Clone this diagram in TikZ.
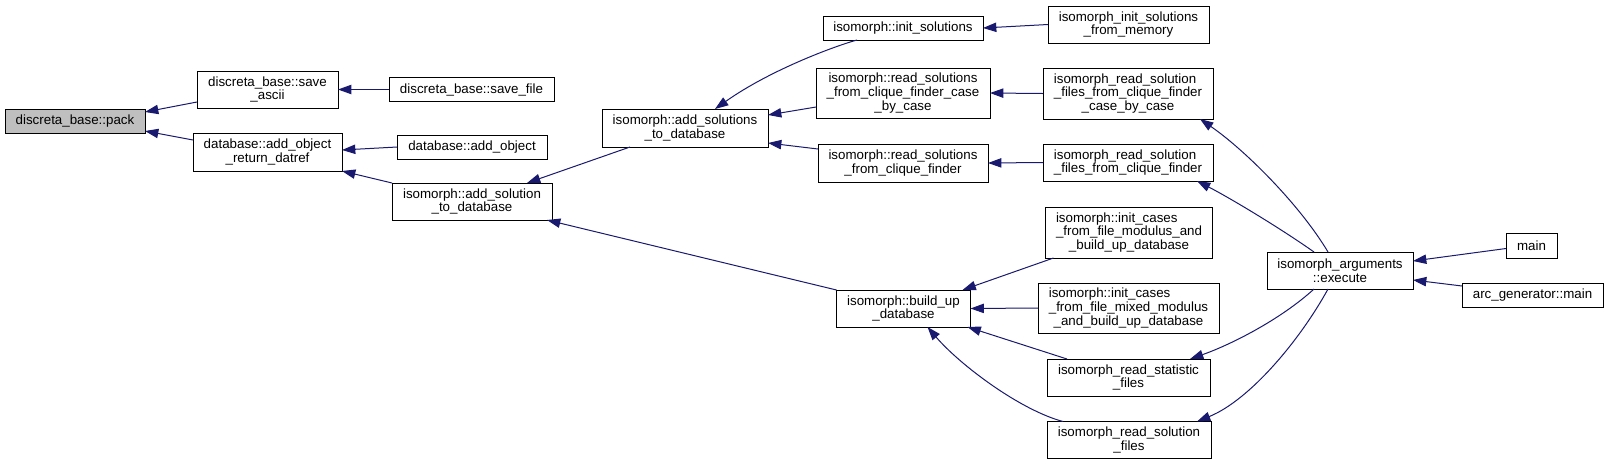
\documentclass[tikz,border=0pt]{standalone}
\usepackage{fontspec}
\setmainfont{Liberation Sans}
\usetikzlibrary{arrows.meta,calc}
\definecolor{edgeblue}{HTML}{191970}
\definecolor{packgray}{HTML}{BFBFBF}
\newlength\firstlen
\newcommand{\firstline}[2]{\settowidth{\firstlen}{#2}\makebox[\firstlen][l]{#1}}
\begin{document}
\begin{tikzpicture}[x=0.75pt,y=-0.75pt,
  nd/.style={draw=black,line width=0.75pt,fill=white,inner sep=0pt,outer sep=0pt,
    align=center,font=\fontsize{10}{10.4}\selectfont},
  call/.style={draw=edgeblue,line width=0.75pt,-{Triangle[length=10pt,width=7pt]},fill=none}]
\useasboundingbox (0,0) rectangle (1608,465);
\fill[white] (0,0) rectangle (1608,465);

% nodes
\node[nd,fill=packgray,minimum width=105pt,minimum height=18pt] (pack) at (75,121) {discreta\_base::pack};
\node[nd,minimum width=105.75pt,minimum height=27.75pt] (saveascii) at (267.5,89.5) {discreta\_base::save\\\_ascii};
\node[nd,minimum width=123.75pt,minimum height=18pt] (savefile) at (471.5,89.5) {discreta\_base::save\_file};
\node[nd,minimum width=111.75pt,minimum height=28.5pt] (datref) at (267.5,152) {database::add\_object\\\_return\_datref};
\node[nd,minimum width=112.5pt,minimum height=18pt] (addobject) at (472,147) {database::add\_object};
\node[nd,minimum width=120pt,minimum height=27.75pt] (addsolution) at (472,201.5) {isomorph::add\_solution\\\_to\_database};
\node[nd,minimum width=124.5pt,minimum height=28.5pt] (addsolutions) at (685,128) {isomorph::add\_solutions\\\_to\_database};
\node[nd,minimum width=120pt,minimum height=18pt] (initsolutions) at (903,28) {isomorph::init\_solutions};
\node[nd,minimum width=130.5pt,minimum height=37.5pt] (rscbc) at (903,93) {isomorph::read\_solutions\\\_from\_clique\_finder\_case\\\_by\_case};
\node[nd,minimum width=127.5pt,minimum height=28.5pt] (rscf) at (903,163) {isomorph::read\_solutions\\\_from\_clique\_finder};
\node[nd,minimum width=120.75pt,minimum height=27.75pt] (initmem) at (1128.5,24.5) {isomorph\_init\_solutions\\\_from\_memory};
\node[nd,minimum width=127.5pt,minimum height=38.25pt] (rsfcbc) at (1128,93.5) {\firstline{isomorph\_read\_solution}{\_files\_from\_clique\_finder}\\\_files\_from\_clique\_finder\\\_case\_by\_case};
\node[nd,minimum width=127.5pt,minimum height=27.75pt] (rsfcf) at (1128,162.5) {\firstline{isomorph\_read\_solution}{\_files\_from\_clique\_finder}\\\_files\_from\_clique\_finder};
\node[nd,minimum width=100.5pt,minimum height=27.75pt] (buildup) at (903.5,308.5) {isomorph::build\_up\\\_database};
\node[nd,minimum width=125.25pt,minimum height=38.25pt] (icmod) at (1129,232.5) {\firstline{isomorph::init\_cases}{\_from\_file\_modulus\_and}\\\_from\_file\_modulus\_and\\\_build\_up\_database};
\node[nd,minimum width=135.75pt,minimum height=37.5pt] (icmixed) at (1128.5,308) {\firstline{isomorph::init\_cases}{\_from\_file\_mixed\_modulus}\\\_from\_file\_mixed\_modulus\\\_and\_build\_up\_database};
\node[nd,minimum width=122.25pt,minimum height=27.75pt] (stat) at (1128.5,377.5) {isomorph\_read\_statistic\\\_files};
\node[nd,minimum width=123pt,minimum height=27.75pt] (solfiles) at (1129,440) {isomorph\_read\_solution\\\_files};
\node[nd,minimum width=109.5pt,minimum height=27.75pt] (execute) at (1340,270.5) {isomorph\_arguments\\::execute};
\node[nd,minimum width=38.25pt,minimum height=18.75pt] (main) at (1531.5,245.5) {main};
\node[nd,minimum width=105.75pt,minimum height=18pt] (arcmain) at (1532.5,295) {arc\_generator::main};

% edges (caller -> callee)
\draw[call] ($(saveascii.south west)+(0,-6)$) -- ($(pack.north east)+(0,3)$);
\draw[call] ($(datref.north west)+(0,7)$) -- ($(pack.south east)+(0,-2)$);
\draw[call] (savefile.west) -- (saveascii.east);
\draw[call] (addobject.west) -- ($(datref.east)+(0,-2)$);
\draw[call] (addsolution.north west) -- (datref.south east);
\draw[call] ($(addsolutions.south west)+(28,0)$) -- ($(addsolution.north east)+(-25,0)$);
\draw[call] (buildup.north west) -- ($(addsolution.south east)+(-5,0)$);
\draw[call] ($(initsolutions.south west)+(34,0)$) .. controls (835,46) and (770,70) .. ($(addsolutions.north west)+(113,0)$);
\draw[call] ($(rscbc.west)+(0,14)$) -- ($(addsolutions.north east)+(0,6)$);
\draw[call] ($(rscf.north west)+(0,5)$) -- ($(addsolutions.south east)+(0,-4)$);
\draw[call] (initmem.west) -- (initsolutions.east);
\draw[call] (rsfcbc.west) -- (rscbc.east);
\draw[call] (rsfcf.west) -- (rscf.east);
\draw[call] ($(icmod.south west)+(8,0)$) -- ($(buildup.north east)+(-8,0)$);
\draw[call] (icmixed.west) -- (buildup.east);
\draw[call] ($(stat.north west)+(20,0)$) -- ($(buildup.south east)+(-3,0)$);
\draw[call] ($(solfiles.north west)+(16,0)$) .. controls (1020,410) and (960,365) .. ($(buildup.south)+(24,0)$);
\draw[call] ($(execute.north)+(-12,0)$) .. controls (1300,205) and (1245,150) .. ($(rsfcbc.south east)+(-13,0)$);
\draw[call] ($(execute.north)+(-26,0)$) .. controls (1280,228) and (1230,198) .. ($(rsfcf.south east)+(-16,0)$);
\draw[call] ($(execute.south)+(-26,0)$) .. controls (1280,320) and (1230,345) .. ($(stat.north east)+(-20,0)$);
\draw[call] ($(execute.south)+(-12,0)$) .. controls (1300,340) and (1250,400) .. ($(solfiles.north east)+(-14,0)$);
\draw[call] ($(main.west)+(0,3)$) -- ($(execute.north east)+(0,9)$);
\draw[call] ($(arcmain.west)+(0,-9)$) -- ($(execute.south east)+(0,-9)$);
\end{tikzpicture}
\end{document}
